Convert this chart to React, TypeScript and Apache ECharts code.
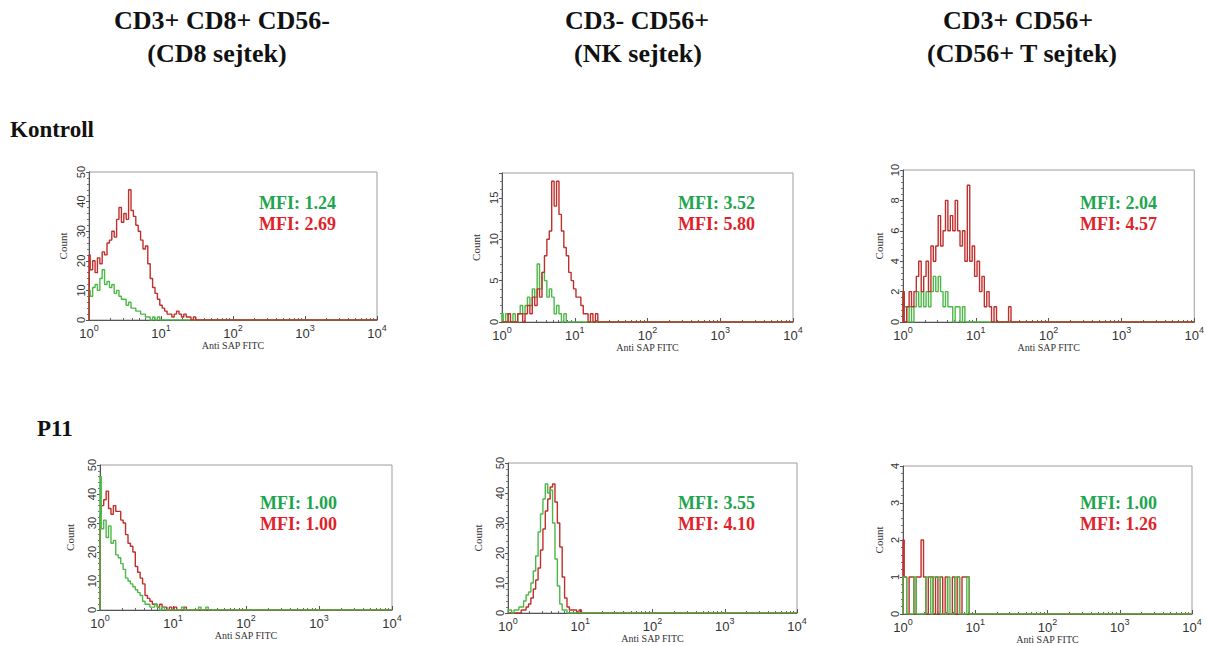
import React, { useEffect, useRef } from 'react';
import * as echarts from 'echarts';

// Channel positions (Anti SAP FITC, log scale) shared by all histograms
const bins = [1.0, 1.08, 1.17, 1.26, 1.36, 1.47, 1.58, 1.71, 1.85, 2.0, 2.15, 2.33, 2.51, 2.71, 2.93, 3.16, 3.41, 3.69, 3.98, 4.3, 4.64, 5.01, 5.41, 5.84, 6.31, 6.81, 7.36, 7.94, 8.58, 9.26, 10.0, 10.8, 11.7, 12.6, 13.6, 14.7, 15.8, 17.1, 18.5, 20.0, 21.5, 23.3, 25.1, 27.1, 29.3, 31.6];

// Counts per channel
const kontrollCd8Green = [10, 8, 11, 12, 10, 14, 17, 12, 13, 11, 12, 9, 10, 8, 7, 7, 5, 6, 4, 4, 3, 3, 2, 2, 1, 1, 0, 1, 0, 1, 0];
const kontrollCd8Red = [22, 17, 20, 16, 21, 19, 23, 22, 26, 27, 30, 28, 34, 38, 33, 36, 34, 44, 37, 35, 32, 30, 27, 24, 25, 19, 14, 11, 9, 7, 5, 4, 3, 2, 2, 1, 2, 3, 2, 1, 2, 1, 1, 0, 1, 0];
const kontrollNkGreen = [1, 0, 1, 0, 0, 1, 0, 1, 2, 1, 2, 3, 2, 4, 3, 7, 4, 6, 5, 3, 4, 3, 1, 2, 1, 0, 1, 0];
const kontrollNkRed = [0, 0, 0, 1, 0, 0, 0, 1, 1, 0, 1, 2, 1, 3, 2, 4, 3, 6, 8, 10, 11, 17, 14, 17, 13, 11, 9, 8, 6, 5, 4, 3, 3, 2, 1, 1, 0, 1, 0, 1, 0];
const kontrollTGreen = [2, 1, 0, 1, 0, 1, 2, 1, 2, 1, 2, 1, 2, 3, 2, 3, 2, 1, 2, 1, 1, 0, 1, 1, 0, 1, 0];
const kontrollTRed = [2, 0, 1, 2, 1, 2, 3, 4, 2, 3, 4, 2, 5, 4, 5, 7, 5, 6, 8, 6, 7, 6, 8, 6, 5, 6, 4, 9, 4, 5, 3, 4, 2, 3, 1, 2, 1, 0, 1, 0, 0, 0, 0, 0, 1, 0];
const p11Cd8Green = [46, 28, 31, 25, 29, 23, 24, 19, 18, 16, 14, 11, 10, 9, 8, 7, 6, 5, 3, 2, 2, 1, 1, 2, 1, 0, 1, 0, 0, 0, 0, 0, 0, 0, 1, 0, 0, 0, 0, 0, 0, 1, 0, 0, 1, 0];
const p11Cd8Red = [33, 36, 38, 41, 35, 33, 36, 34, 34, 31, 30, 26, 23, 22, 20, 15, 13, 11, 9, 5, 4, 3, 2, 2, 1, 2, 1, 1, 0, 1, 0, 1, 0, 0, 0, 1, 0];
const p11NkGreen = [1, 1, 0, 1, 1, 2, 2, 4, 6, 7, 10, 14, 19, 27, 33, 38, 43, 40, 41, 30, 18, 9, 3, 1, 1, 0];
const p11NkRed = [0, 0, 0, 0, 0, 0, 1, 1, 2, 3, 5, 8, 11, 15, 21, 28, 34, 38, 42, 43, 37, 30, 22, 12, 5, 2, 1, 1, 1, 0, 1, 0];
const p11TGreen = [1, 1, 0, 0, 0, 1, 0, 0, 0, 0, 1, 1, 0, 1, 1, 1, 0, 0, 0, 1, 0, 0, 1, 1, 0, 0, 0, 1, 0];
const p11TRed = [2, 1, 0, 1, 1, 0, 1, 1, 2, 1, 0, 1, 1, 0, 1, 0, 1, 0, 1, 0, 0, 1, 0, 1, 0, 1, 1, 1, 0];

const greenSeries = [kontrollCd8Green, kontrollNkGreen, kontrollTGreen, p11Cd8Green, p11NkGreen, p11TGreen];
const redSeries = [kontrollCd8Red, kontrollNkRed, kontrollTRed, p11Cd8Red, p11NkRed, p11TRed];

const mfiGreen = ['1.24', '3.52', '2.04', '1.00', '3.55', '1.00'];
const mfiRed = ['2.69', '5.80', '4.57', '1.00', '4.10', '1.26'];

const yMaxes = [50, 18, 10, 50, 50, 4];
const yIntervals = [10, 5, 2, 10, 10, 1];
const minorTickValues = [2, 3, 4, 5, 6, 7, 8, 9, 20, 30, 40, 50, 60, 70, 80, 90, 200, 300, 400, 500, 600, 700, 800, 900, 2000, 3000, 4000, 5000, 6000, 7000, 8000, 9000];

const headerLines = [
  ['CD3+ CD8+ CD56-', '(CD8 sejtek)'],
  ['CD3- CD56+', '(NK sejtek)'],
  ['CD3+ CD56+', '(CD56+ T sejtek)'],
];
const rowLabels = ['Kontroll', 'P11'];

// Layout (pixels)
const gridBoxes = [
  { left: 89, top: 172, width: 288, height: 148 },
  { left: 502, top: 173, width: 291, height: 149 },
  { left: 903, top: 170, width: 292, height: 152 },
  { left: 100, top: 465, width: 292, height: 145 },
  { left: 508, top: 463, width: 289, height: 150 },
  { left: 903, top: 466, width: 289, height: 148 },
];
const yNameGaps = [21, 21, 19, 25, 25, 19];
const xNameGaps = [17, 16, 19, 17, 19, 18];
const mfiPos = [
  [259, 202.5], [678, 202.5], [1080, 202.5],
  [260, 503], [678, 503], [1080, 503],
];
const headerPos = [
  [[222, 20], [217, 53]],
  [[637, 20], [638, 53]],
  [[1018, 20], [1022, 53]],
];
const rowLabelPos = [[10, 129], [37, 428.5]];

const GREEN_LINE = '#4db848';
const RED_LINE = '#bf2f2c';
const GREEN_TEXT = '#1fa54f';
const RED_TEXT = '#e0232a';

function toData(arr: number[]) {
  const pts: [number, number][] = [[bins[0], 0]];
  arr.forEach((v, j) => pts.push([bins[j], v]));
  pts.push([10000, 0]);
  return pts;
}

export default function App() {
  const ref = useRef<HTMLDivElement>(null);
  useEffect(() => {
    document.body.style.margin = '0';
    if (!ref.current) return;
    const chart = echarts.init(ref.current, undefined, { renderer: 'svg' });

    const grids: any[] = [];
    const xAxes: any[] = [];
    const yAxes: any[] = [];
    const series: any[] = [];
    const graphics: any[] = [];

    gridBoxes.forEach((g, i) => {
      grids.push({ ...g, show: true, borderColor: '#9c9c9c', borderWidth: 1, backgroundColor: 'transparent' });
      xAxes.push({
        type: 'log', logBase: 10, min: 1, max: 10000, gridIndex: i, position: 'bottom',
        name: 'Anti SAP FITC', nameLocation: 'middle', nameGap: xNameGaps[i],
        nameTextStyle: { fontFamily: 'Liberation Serif', fontSize: 10, color: '#333' },
        axisLine: { show: true, lineStyle: { color: '#555', width: 1 } },
        axisTick: { show: true, inside: true, length: 4, lineStyle: { color: '#555' } },
        axisLabel: {
          margin: 3, showMinLabel: true, showMaxLabel: true,
          formatter: (v: number) => `{b|10}{s|${Math.round(Math.log10(v))}}`,
          rich: {
            b: { fontSize: 13, fontFamily: 'Liberation Sans', color: '#333', lineHeight: 17, verticalAlign: 'bottom' },
            s: { fontSize: 9, fontFamily: 'Liberation Sans', color: '#333', lineHeight: 9, verticalAlign: 'top' },
          },
        },
        splitLine: { show: false },
      });
      xAxes.push({
        type: 'log', logBase: 10, min: 1, max: 10000, gridIndex: i, position: 'bottom',
        axisLine: { show: false },
        axisLabel: { show: false },
        axisTick: { show: true, inside: true, length: 2, customValues: minorTickValues, lineStyle: { color: '#666' } },
        splitLine: { show: false },
      });
      const step = yIntervals[i];
      yAxes.push({
        type: 'value', min: 0, max: yMaxes[i], interval: step, gridIndex: i,
        name: 'Count', nameLocation: 'middle', nameGap: yNameGaps[i],
        nameTextStyle: { fontFamily: 'Liberation Serif', fontSize: 11, color: '#333' },
        axisLine: { show: true, lineStyle: { color: '#555', width: 1 } },
        axisTick: { show: true, length: 3, lineStyle: { color: '#555' } },
        minorTick: { show: true, splitNumber: 5, length: 2, lineStyle: { color: '#777' } },
        axisLabel: {
          rotate: 90, margin: 3, fontSize: 11, fontFamily: 'Liberation Sans', color: '#333',
          showMaxLabel: true,
          formatter: (v: number) => (Math.abs(v / step - Math.round(v / step)) < 1e-6 ? String(v) : ''),
        },
        splitLine: { show: false },
      });
      const green = {
        type: 'line', xAxisIndex: i * 2, yAxisIndex: i, step: 'middle', symbol: 'none',
        lineStyle: { color: GREEN_LINE, width: 1.4 }, data: toData(greenSeries[i]), silent: true,
      };
      const red = {
        type: 'line', xAxisIndex: i * 2, yAxisIndex: i, step: 'middle', symbol: 'none',
        lineStyle: { color: RED_LINE, width: 1.4 }, data: toData(redSeries[i]), silent: true,
      };
      if (i < 3) series.push(green, red); else series.push(red, green);

      const [mx, my] = mfiPos[i];
      graphics.push({
        type: 'text', x: mx, y: my,
        style: { text: `MFI: ${mfiGreen[i]}`, font: 'bold 18px "Liberation Serif"', fill: GREEN_TEXT, textAlign: 'left', textVerticalAlign: 'middle' },
      });
      graphics.push({
        type: 'text', x: mx, y: my + 21,
        style: { text: `MFI: ${mfiRed[i]}`, font: 'bold 18px "Liberation Serif"', fill: RED_TEXT, textAlign: 'left', textVerticalAlign: 'middle' },
      });
    });

    headerLines.forEach((lines, c) => {
      lines.forEach((t, l) => {
        const [hx, hy] = headerPos[c][l];
        graphics.push({
          type: 'text', x: hx, y: hy,
          style: { text: t, font: 'bold 26px "Liberation Serif"', fill: '#111', textAlign: 'center', textVerticalAlign: 'middle' },
        });
      });
    });
    rowLabels.forEach((t, r) => {
      const [rx, ry] = rowLabelPos[r];
      graphics.push({
        type: 'text', x: rx, y: ry,
        style: { text: t, font: 'bold 23px "Liberation Serif"', fill: '#111', textAlign: 'left', textVerticalAlign: 'middle' },
      });
    });

    chart.setOption({
      animation: false,
      backgroundColor: '#fff',
      grid: grids,
      xAxis: xAxes,
      yAxis: yAxes,
      series,
      graphic: graphics,
    });
    return () => chart.dispose();
  }, []);
  return <div ref={ref} style={{ width: 1207, height: 646 }} />;
}
